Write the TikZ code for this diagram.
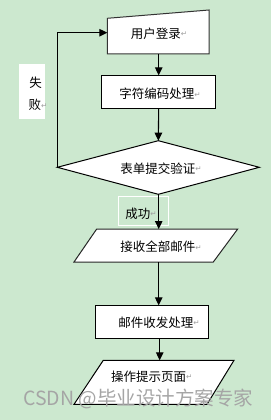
\documentclass[tikz,border=0pt]{standalone}
\usepackage{fontspec}
\setmainfont{Noto Sans CJK SC}
\newfontfamily\dvfont{DejaVu Sans}
\usetikzlibrary{arrows.meta}
\definecolor{bgreen}{RGB}{204,232,207}
\definecolor{retgray}{RGB}{160,160,160}
\definecolor{wmgray}{RGB}{165,165,165}
\newcommand\retmark{{\dvfont\fontsize{7.5}{7.5}\selectfont\color{retgray}\raisebox{1.5pt}{↵}}}
\begin{document}
\begin{tikzpicture}[x=1pt,y=-1pt,
  shapeline/.style={draw=black,line width=1pt,fill=white},
  conn/.style={line width=1.1pt,-{Triangle[width=7.5pt,length=8pt]}},
  label/.style={inner sep=0pt,font=\fontsize{12.5}{14}\selectfont}]
\fill[bgreen] (0,0) rectangle (271,420);
\useasboundingbox (0,0) rectangle (271,420);
% shapes
\draw[shapeline,draw=black!80] (107.3,18.3) -- (209,10) -- (209,54) -- (107.3,54) -- cycle;
\draw[shapeline] (101.3,75.3) rectangle (215.3,108.3);
\draw[shapeline] (158.3,140.7) -- (259.3,167.3) -- (158.3,194.3) -- (57.3,167.3) -- cycle;
\draw[shapeline,draw=black!85] (96.7,229) -- (237.7,229) -- (213.3,262) -- (74,262) -- cycle;
\draw[shapeline] (95.3,305.3) rectangle (208.7,338.3);
\draw[shapeline] (103.3,360.3) -- (234,360.3) -- (207,404.3) -- (74,404.3) -- cycle;
% labels
\fill[white] (19,64) rectangle (45,119.3);
\draw[white,line width=0.8pt] (118.3,196) rectangle (168.7,225);
% text nodes
\node[label] (login) at (159,33.3) {用户登录\retmark};
\node[label] (encode) at (160,94) {字符编码处理\retmark};
\node[label] (check) at (161,168.3) {表单提交验证\retmark};
\node[label] (ok) at (141,213.3) {成功\retmark};
\node[label] (fail1) at (35.5,83) {失};
\node[label] (fail2) at (38,105) {败\retmark};
\node[label] (recv) at (161,246.7) {接收全部邮件\retmark};
\node[label] (proc) at (159,322.7) {邮件收发处理\retmark};
\node[label] (page) at (151.7,376.7) {操作提示页面\retmark};
% connection points
\coordinate (loginS) at (158.7,54);
\coordinate (loginW) at (107.3,32.7);
\coordinate (encN) at (158.7,75.3);
\coordinate (encS) at (158.7,108.3);
\coordinate (chkN) at (158.3,140.7);
\coordinate (chkS) at (158.7,194.3);
\coordinate (chkW) at (57.3,167.3);
\coordinate (recvN) at (158.7,229);
\coordinate (recvS) at (158.7,262);
\coordinate (procN) at (158.7,305.3);
\coordinate (procS) at (159.7,338.3);
\coordinate (pageN) at (159.7,360.3);
% connectors
\draw[conn] (loginS) -- (encN);
\draw[conn] (encS) -- (chkN);
\draw[conn] (chkW) |- (loginW);
\draw[conn] (chkS) -- (recvN);
\draw[conn] (recvS) -- (procN);
\draw[conn] (procS) -- (pageN);
% watermark
\node[anchor=west,inner sep=0pt,text=wmgray,font=\fontsize{19.5}{19.5}\selectfont] (wm) at (23,399) {CSDN @毕业设计方案专家};
\end{tikzpicture}
\end{document}
